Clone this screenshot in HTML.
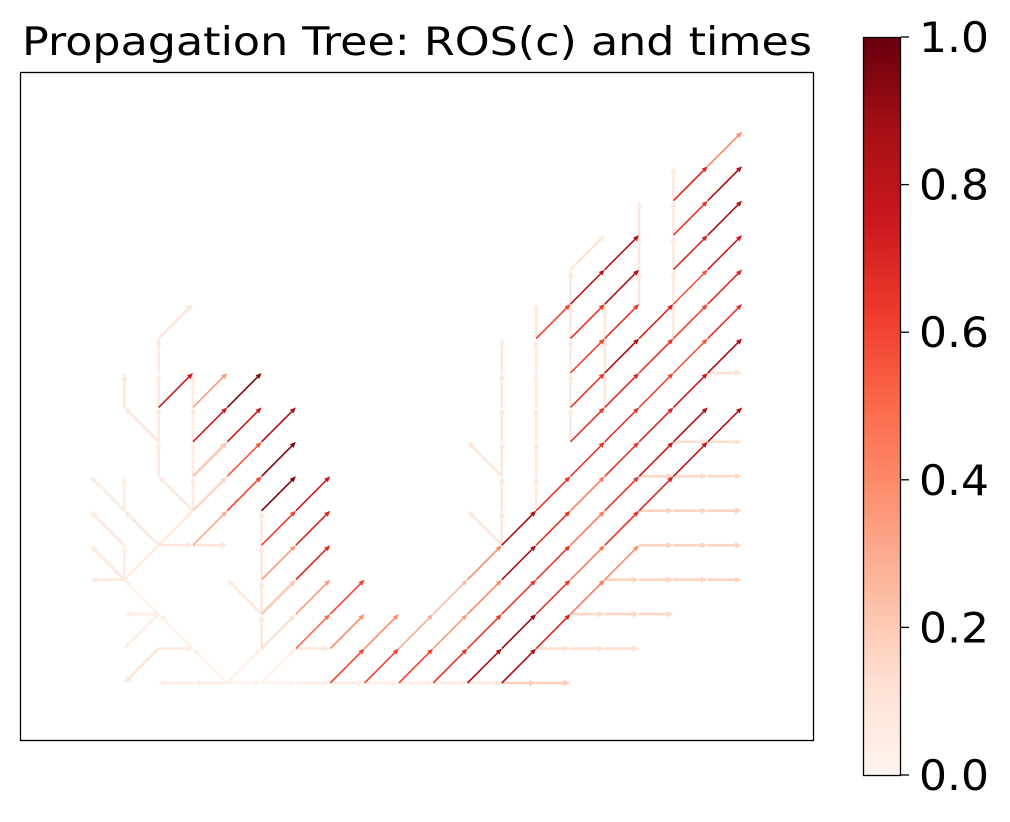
<!DOCTYPE html>
<html><head><meta charset="utf-8"><style>
html,body{margin:0;padding:0;background:#fff;}
svg{display:block;font-family:"DejaVu Sans","Liberation Sans",sans-serif;}
</style></head><body>
<svg id="chart" width="1010" height="822" viewBox="0 0 1010 822">
<defs>
<linearGradient id="cmap" x1="0" y1="1" x2="0" y2="0">
<stop offset="0" stop-color="#fff5f0"/><stop offset="0.125" stop-color="#fee0d2"/><stop offset="0.25" stop-color="#fcbba1"/><stop offset="0.375" stop-color="#fc9272"/><stop offset="0.5" stop-color="#fb6a4a"/><stop offset="0.625" stop-color="#ef3b2c"/><stop offset="0.75" stop-color="#cb181d"/><stop offset="0.875" stop-color="#a50f15"/><stop offset="1" stop-color="#67000d"/>
</linearGradient>
</defs>
<text x="417" y="55" font-size="39" text-anchor="middle" textLength="790" lengthAdjust="spacingAndGlyphs">Propagation Tree: ROS(c) and times</text>
<g id="marks"></g>
<rect x="20.5" y="72.5" width="793" height="668" fill="none" stroke="#000" stroke-width="1.3"/>
<rect x="863.5" y="37.5" width="37" height="738" fill="url(#cmap)" stroke="#000" stroke-width="1.3"/>
<g id="cbticks"></g>
</svg>
<script>
// light branch edges: [i0, j0, i1, j1]
const lightEdges = [
[4,0,3,1],[3,1,2,2],[2,2,1,3],[1,3,0,4],[1,3,0,3],[1,3,1,4],[1,4,0,5],[1,3,2,4],[2,4,1,5],[1,5,0,6],[1,5,1,6],
[2,4,3,5],[2,4,3,4],[3,4,4,4],[3,5,2,6],[3,5,3,6],[3,6,3,7],[3,7,3,8],[3,8,3,9],
[2,6,2,7],[2,7,2,8],[2,8,2,9],[2,9,2,10],[2,10,3,11],[2,7,1,8],[1,8,1,9],
[2,2,1,2],[2,2,1,1],[2,1,1,0],[2,1,3,1],
[4,0,3,0],[3,0,2,0],[4,0,5,0],[5,0,6,0],[6,0,7,0],[7,0,8,0],[8,0,9,0],[9,0,10,0],[10,0,11,0],[11,0,12,0],
[4,0,5,1],[5,0,6,1],[5,1,5,2],[5,2,5,3],[5,3,5,4],[5,4,5,5],[5,2,4,3],[6,1,7,1],
[12,4,12,5],[12,5,12,6],[12,6,12,7],[12,7,12,8],[12,8,12,9],[12,9,12,10],[12,4,11,5],[12,6,11,7],
[13,5,13,6],[13,6,13,7],[13,7,13,8],[13,8,13,9],[13,9,13,10],[13,10,13,11],
[14,7,14,8],[14,8,14,9],[14,9,14,10],[14,10,14,11],[14,11,14,12],
[15,8,15,9],[15,9,15,10],[15,10,15,11],
[16,11,16,12],[16,12,16,13],[16,13,16,14],
[17,10,17,11],[17,11,17,12],[17,12,17,13],[17,13,17,14],[17,14,17,15],[14,12,15,13]
];
const lightValues = [
0.02,0.02,0.02,0.07,0.07,0.05,0.07,0.05,0.07,0.06,0.05,
0.06,0.08,0.1,0.07,0.06,0.06,0.06,0.06,
0.07,0.07,0.07,0.07,0.09,0.09,0.09,
0.04,0.04,0.09,0.05,
0.04,0.04,0.03,0.03,0.04,0.04,0.04,0.05,0.06,0.08,
0.03,0.03,0.07,0.07,0.07,0.07,0.07,0.07,
0.07,0.07,0.07,0.07,0.07,0.07,0.08,0.08,
0.07,0.07,0.07,0.07,0.07,0.07,
0.07,0.07,0.07,0.07,0.07,
0.07,0.07,0.07,
0.07,0.07,0.07,
0.07,0.07,0.07,0.07,0.07,0.09
];
// short left diagonals: [i0, j0, i1, j1]
const diagEdges = [
[2,8,3,9],[3,8,4,9],[4,8,5,9],[3,7,4,8],[4,7,5,8],[5,7,6,8],[3,6,4,7],[4,6,5,7],[5,6,6,7],[4,5,5,6],[3,5,4,6],[5,5,6,6],[6,5,7,6],
[5,4,6,5],[6,4,7,5],[5,3,6,4],[6,3,7,4],[5,2,6,3],[6,2,7,3],[7,2,8,3],[5,1,6,2],[6,1,7,2],[7,1,8,2],[3,4,4,5],[7,0,8,1],[8,1,9,2]
];
const diagValues = [0.75,0.35,0.95,0.75,0.75,0.85,0.2,0.55,0.95,0.6,0.15,0.95,0.75,0.6,0.7,0.35,0.7,0.2,0.35,0.6,0.1,0.5,0.4,0.3,0.6,0.4];
// long diagonal chains: start column, start row, per-segment values
const chainStartI = [8,9,10,11,12,14,14,14,17,14,17,13,17];
const chainStartJ = [0,0,0,0,0,7,8,9,12,10,13,10,14];
const chainValues = [
[0.6,0.3,0.25,0.4,0.85,0.65,0.65,0.65,0.6,0.55,0.65],
[0.6,0.35,0.4,0.85,0.65,0.45,0.65,0.7,0.75,0.85],
[0.65,0.65,0.65,0.65,0.45,0.65,0.75,0.85],
[0.85,0.9,0.65,0.45,0.65,0.7,0.8,0.85],
[0.85,0.7,0.45,0.4],
[0.65,0.7,0.65,0.6,0.7],
[0.65,0.85,0.7,0.55,0.75],
[0.6,0.65],[0.7,0.85],
[0.65,0.85],[0.65,0.85],
[0.6,0.8,0.85],[0.7,0.4]
];
// horizontal runs: row, from column, to column, value
const hRow = [9,7,6,5,4,3,2,1,0];
const hFrom = [18,17,16,16,16,15,14,13,12];
const hTo = [19,19,19,19,19,19,17,16,14];
const hVal = [0.12,0.12,0.15,0.17,0.17,0.17,0.15,0.13,0.18];
const cbTicks = [0.0,0.2,0.4,0.6,0.8,1.0];
const cbLabels = ["0.0","0.2","0.4","0.6","0.8","1.0"];

const NS = "http://www.w3.org/2000/svg";
function xS(i){return 90 + 34.32*i;}
function yS(j){return 683 - 34.45*j;}
function cbY(v){return 775 - 738*v;}
const stops=[[255,245,240],[254,224,210],[252,187,161],[252,146,114],[251,106,74],[239,59,44],[203,24,29],[165,15,21],[103,0,13]];
function cmap(v){v=Math.max(0,Math.min(1,v));const t=v*8,k=Math.min(7,Math.floor(t)),f=t-k;const a=stops[k],b=stops[k+1];
return "rgb("+a.map((c,n)=>Math.round(c+(b[n]-c)*f)).join(",")+")";}
const all=[];
lightEdges.forEach((e,n)=>all.push([e[0],e[1],e[2],e[3],lightValues[n]]));
diagEdges.forEach((e,n)=>all.push([e[0],e[1],e[2],e[3],diagValues[n]]));
chainStartI.forEach((si,c)=>{chainValues[c].forEach((v,k)=>all.push([si+k,chainStartJ[c]+k,si+k+1,chainStartJ[c]+k+1,v]));});
hRow.forEach((r,n)=>{for(let i=hFrom[n];i<hTo[n];i++)all.push([i,r,i+1,r,hVal[n]]);});
all.sort((a,b)=>a[4]-b[4]);
const g=document.getElementById("marks");
all.forEach(e=>{
 const x0=xS(e[0]),y0=yS(e[1]),x1=xS(e[2]),y1=yS(e[3]),v=e[4],col=cmap(v);
 const w=v<0.25?2.6:1.6;
 const dx=x1-x0,dy=y1-y0,L=Math.hypot(dx,dy),ux=dx/L,uy=dy/L;
 const hl=v<0.25?7:6,hw=v<0.25?3.2:2.6;
 const bx=x1-ux*hl,by=y1-uy*hl;
 const ln=document.createElementNS(NS,"line");
 
 
 ln.setAttribute("x1",x0);ln.setAttribute("y1",y0);ln.setAttribute("x2",bx);ln.setAttribute("y2",by);
 ln.setAttribute("stroke",col);ln.setAttribute("stroke-width",w);
 g.appendChild(ln);
 const p=document.createElementNS(NS,"polygon");
 
 
 p.setAttribute("points",x1+","+y1+" "+(bx-uy*hw)+","+(by+ux*hw)+" "+(bx+uy*hw)+","+(by-ux*hw));
 p.setAttribute("fill",col);
 g.appendChild(p);
});
const ct=document.getElementById("cbticks");
cbTicks.forEach((v,n)=>{
 const y=cbY(v);
 const t=document.createElementNS(NS,"line");
 
 
 t.setAttribute("x1",901);t.setAttribute("x2",909);t.setAttribute("y1",y);t.setAttribute("y2",y);
 t.setAttribute("stroke","#000");t.setAttribute("stroke-width",1.3);
 ct.appendChild(t);
 const tx=document.createElementNS(NS,"text");
 
 
 tx.setAttribute("x",919);tx.setAttribute("y",y+15);tx.setAttribute("font-size","42");
 tx.setAttribute("textLength","70");tx.setAttribute("lengthAdjust","spacingAndGlyphs");
 tx.textContent=cbLabels[n];
 ct.appendChild(tx);
});
</script>
</body></html>
